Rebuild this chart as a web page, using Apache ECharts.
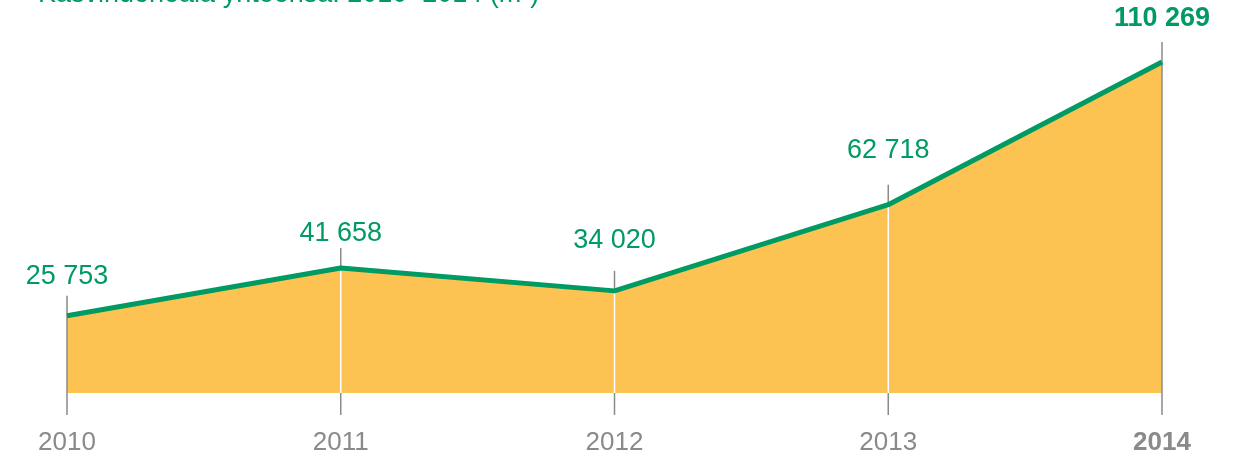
<!DOCTYPE html>
<html>
<head>
<meta charset="utf-8">
<script src="https://cdn.jsdelivr.net/npm/echarts@6/dist/echarts.min.js"></script>
<style>
html, body { margin: 0; padding: 0; background: #fff; }
#chart { width: 1236px; height: 457px; }
</style>
</head>
<body>
<div id="chart"></div>
<script>
// data
const years = ['2010', '2011', '2012', '2013', '2014'];
const areaM2 = [25753, 41658, 34020, 62718, 110269];
const titleText = 'Kasvihuoneala yhteensä: 2010–2014 (m²)';

// label gap above each point (style only)
const labelGap = [26, 21, 37, 41, 30];

const green = '#009a63';
const grey = '#8a8a8a';
const font = '"Liberation Sans", Arial, sans-serif';
const last = years.length - 1;

function fmt (v) {
  return String(v).replace(/\B(?=(\d{3})+(?!\d))/g, ' ');
}

const chart = echarts.init(document.getElementById('chart'));
chart.setOption({
  animation: false,
  textStyle: { fontFamily: font },
  graphic: [{
    type: 'text',
    left: 38,
    top: -19,
    style: { text: titleText, fontSize: 27, fill: green, fontFamily: font }
  }],
  grid: { left: 67, right: 74, top: 62, bottom: 64 },
  xAxis: {
    type: 'category',
    boundaryGap: false,
    data: years,
    axisLine: { show: false },
    axisTick: { show: false },
    splitLine: { show: false },
    axisLabel: {
      margin: 37,
      fontSize: 26,
      color: grey,
      formatter: (v, i) => i === last ? '{b|' + v + '}' : v,
      rich: { b: { fontSize: 26, fontWeight: 'bold', color: grey, fontFamily: font } }
    }
  },
  yAxis: {
    type: 'value',
    min: 0,
    max: 110269,
    show: false,
    splitLine: { show: false }
  },
  series: [
    {
      type: 'line',
      z: 1,
      data: areaM2,
      symbol: 'none',
      lineStyle: { width: 0 },
      areaStyle: { color: '#fdc352', opacity: 1 }
    },
    {
      type: 'custom',
      z: 2,
      data: areaM2.map((v, i) => [i, v]),
      renderItem: function (params, api) {
        const i = api.value(0);
        const p = api.coord([i, api.value(1)]);
        const b = api.coord([i, 0]);
        const edge = i === 0 || i === last;
        const ln = (y1, y2, c) => ({
          type: 'line',
          shape: { x1: p[0], y1: y1, x2: p[0], y2: y2 },
          style: { stroke: c, lineWidth: 1.5 }
        });
        return {
          type: 'group',
          children: [
            ln(p[1] - 20, p[1], grey),
            ln(p[1], b[1], edge ? grey : '#ffffff'),
            ln(b[1], b[1] + 22, grey)
          ]
        };
      }
    },
    {
      type: 'line',
      z: 3,
      data: areaM2.map((v, i) => ({
        value: v,
        label: {
          distance: labelGap[i],
          fontWeight: i === last ? 'bold' : 'normal'
        }
      })),
      symbol: 'circle',
      symbolSize: 0.1,
      showSymbol: true,
      itemStyle: { color: green },
      lineStyle: { width: 5, color: green },
      label: {
        show: true,
        position: 'top',
        fontSize: 27,
        color: green,
        fontFamily: font,
        formatter: p => fmt(p.value)
      }
    }
  ]
});
</script>
</body>
</html>
